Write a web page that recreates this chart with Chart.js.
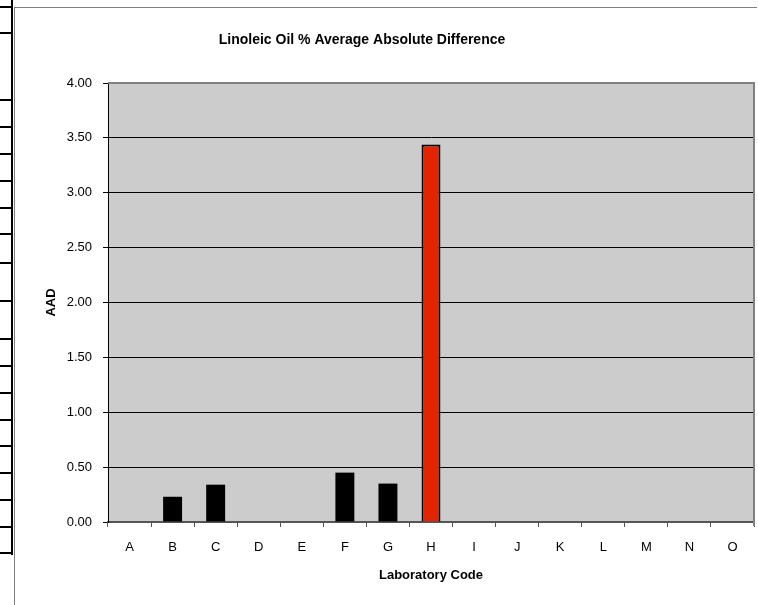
<!DOCTYPE html>
<html lang="en">
<head>
    <meta charset="UTF-8">
    <title>Linoleic Oil % Average Absolute Difference</title>
    <script src="https://cdn.jsdelivr.net/npm/chart.js"></script>
    <style>
        html, body {
            margin: 0;
            padding: 0;
            background: #ffffff;
            width: 758px;
            height: 605px;
            overflow: hidden;
            font-family: 'Liberation Sans', Arial, sans-serif;
        }
        .sheet-col {
            position: absolute;
            left: 11px;
            top: 0;
            width: 2px;
            height: 555px;
            background: #000;
        }
        .sheet-row {
            position: absolute;
            left: 0;
            width: 12px;
            height: 2px;
            background: #000;
        }
        .frame-left {
            position: absolute;
            left: 14px;
            top: 7px;
            width: 1px;
            height: 598px;
            background: #808080;
        }
        .frame-top {
            position: absolute;
            left: 14px;
            top: 7px;
            width: 743px;
            height: 1px;
            background: #808080;
        }
        #wrap {
            position: absolute;
            left: 0;
            top: 0;
            width: 758px;
            height: 605px;
        }
    </style>
</head>
<body>
    <div class="sheet-col"></div>
    <div id="rows"></div>
    <div class="frame-left"></div>
    <div class="frame-top"></div>
    <div id="wrap"><canvas id="aad-chart" width="758" height="605"></canvas></div>

    <script>
        // data
        const labCodes = ['A', 'B', 'C', 'D', 'E', 'F', 'G', 'H', 'I', 'J', 'K', 'L', 'M', 'N', 'O'];
        const aadValues = [0, 0.23, 0.34, 0, 0, 0.45, 0.35, 3.44, 0, 0, 0, 0, 0, 0, 0];
        const yTicks = [0, 0.5, 1, 1.5, 2, 2.5, 3, 3.5, 4];
        const highlightLab = 'H';

        // spreadsheet cell borders on the left edge
        const rowLines = [7, 33, 100, 127, 154, 181, 208, 234, 263, 301, 339, 366, 393, 420, 446, 473, 500, 527, 553];
        const rowsDiv = document.getElementById('rows');
        rowLines.forEach(y => {
            const d = document.createElement('div');
            d.className = 'sheet-row';
            d.style.top = (y - 1) + 'px';
            rowsDiv.appendChild(d);
        });

        const FONT = "'Liberation Sans', Arial, sans-serif";

        const plotFrame = {
            id: 'plotFrame',
            beforeDraw(chart) {
                const { ctx, chartArea: a } = chart;
                ctx.save();
                ctx.fillStyle = '#cccccc';
                ctx.fillRect(a.left, a.top, a.right - a.left, a.bottom - a.top);
                ctx.restore();
            },
            afterDraw(chart) {
                const { ctx, chartArea: a } = chart;
                ctx.save();
                ctx.strokeStyle = '#808080';
                ctx.lineWidth = 2;
                ctx.beginPath();
                ctx.moveTo(a.left, a.top);
                ctx.lineTo(a.right, a.top);
                ctx.lineTo(a.right, a.bottom + 4);
                ctx.stroke();
                // chart title
                ctx.fillStyle = '#000';
                ctx.font = 'bold 14px ' + FONT;
                ctx.textAlign = 'center';
                ctx.textBaseline = 'middle';
                ctx.fillText('Linoleic Oil % Average Absolute Difference', 362, 40);
                ctx.restore();
            }
        };

        const ctx = document.getElementById('aad-chart').getContext('2d');
        const aadChart = new Chart(ctx, {
            type: 'bar',
            data: {
                labels: labCodes,
                datasets: [{
                    data: aadValues,
                    backgroundColor: labCodes.map(c => c === highlightLab ? '#e32400' : '#000000'),
                    borderColor: '#000000',
                    borderWidth: labCodes.map(c => c === highlightLab ? 2 : 0),
                    barPercentage: 0.44,
                    categoryPercentage: 1
                }]
            },
            options: {
                responsive: false,
                animation: false,
                layout: { padding: { left: 14, top: 83, right: 4, bottom: 0 } },
                plugins: {
                    legend: { display: false },
                    title: { display: false },
                    tooltip: { enabled: false }
                },
                scales: {
                    x: {
                        afterFit(scale) { scale.height = 83; },
                        grid: { drawOnChartArea: false, tickLength: 5, color: '#555555', offset: true },
                        border: { color: '#555555', width: 2 },
                        ticks: { color: '#000', padding: 13, font: { family: FONT, size: 13 } },
                        title: {
                            display: true,
                            text: 'Laboratory Code',
                            color: '#000',
                            padding: { top: 0, bottom: 22 },
                            font: { family: FONT, size: 13, weight: 'bold' }
                        }
                    },
                    y: {
                        min: 0,
                        max: 4,
                        afterFit(scale) { scale.width = 94; },
                        afterBuildTicks(scale) { scale.ticks = yTicks.map(v => ({ value: v })); },
                        grid: { color: '#000000', lineWidth: 1, tickLength: 5 },
                        border: { color: '#000000', width: 1 },
                        ticks: {
                            color: '#000',
                            padding: 11,
                            font: { family: FONT, size: 13 },
                            callback: v => Number(v).toFixed(2)
                        },
                        title: {
                            display: true,
                            text: 'AAD',
                            color: '#000',
                            padding: { top: 30, bottom: 0 },
                            font: { family: FONT, size: 13, weight: 'bold' }
                        }
                    }
                }
            },
            plugins: [plotFrame]
        });
    </script>
</body>
</html>
